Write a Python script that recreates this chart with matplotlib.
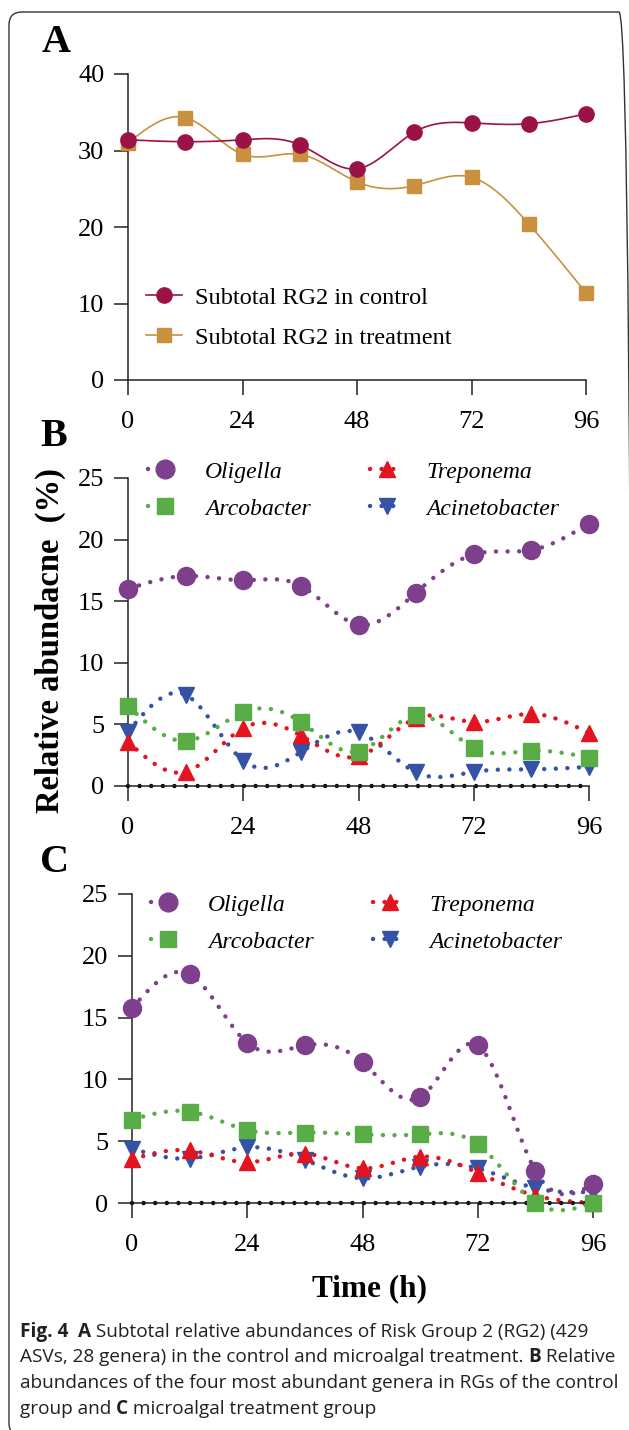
import numpy as np
import matplotlib
matplotlib.use("Agg")
import matplotlib.pyplot as plt
from matplotlib.lines import Line2D
from matplotlib.patches import FancyBboxPatch

# ---------------- data ----------------
time_h = [0, 12, 24, 36, 48, 60, 72, 84, 96]
x_ticks = [0, 24, 48, 72, 96]

# Panel A
rg2_control = [31.4, 31.15, 31.4, 30.75, 27.6, 32.4, 33.6, 33.5, 34.8]
rg2_treatment = [31.0, 34.3, 29.5, 29.5, 25.9, 25.4, 26.5, 20.4, 11.4]
a_labels = ["Subtotal RG2 in control", "Subtotal RG2 in treatment"]
a_yticks = [0, 10, 20, 30, 40]

# Panel B (control)
b_oligella = [16.0, 17.05, 16.7, 16.25, 13.1, 15.7, 18.8, 19.15, 21.3]
b_treponema = [3.6, 1.15, 4.7, 4.1, 2.4, 5.5, 5.2, 5.85, 4.3]
b_arcobacter = [6.5, 3.65, 6.0, 5.2, 2.8, 5.75, 3.1, 2.85, 2.3]
b_acinetobacter = [4.4, 7.4, 2.05, 2.75, 4.35, 1.1, 1.15, 1.35, 1.55]
b_baseline_end = 94.5

# Panel C (treatment)
c_oligella = [15.75, 18.5, 12.95, 12.75, 11.4, 8.55, 12.75, 2.6, 1.5]
c_treponema = [3.55, 4.25, 3.3, 4.0, 2.8, 3.75, 2.45, 0.6, 0.0]
c_arcobacter = [6.75, 7.4, 5.9, 5.7, 5.55, 5.55, 4.75, 0.0, 0.0]
c_acinetobacter = [4.4, 3.6, 4.5, 3.5, 2.0, 2.95, 2.8, 1.2, 0.9]
c_baseline_end = 96

genera_legend_order = ["Oligella", "Arcobacter", "Treponema", "Acinetobacter"]
bc_yticks = [0, 5, 10, 15, 20, 25]

caption_lines = [
    [("Fig. 4", "bold"), ("  ", "normal"), ("A", "bold"),
     (" Subtotal relative abundances of Risk Group 2 (RG2) (429", "normal")],
    [("ASVs, 28 genera) in the control and microalgal treatment. ", "normal"),
     ("B", "bold"), (" Relative", "normal")],
    [("abundances of the four most abundant genera in RGs of the control", "normal")],
    [("group and ", "normal"), ("C", "bold"), (" microalgal treatment group", "normal")],
]

# ---------------- style ----------------
W, H = 629, 1430
SERIF = "Liberation Serif"
plt.rcParams["font.family"] = SERIF
plt.rcParams["axes.linewidth"] = 1.1

col_control = "#9B1247"
col_treat = "#C9913F"
gen_colors = {"Oligella": "#7E3F8C", "Treponema": "#E3141F",
              "Arcobacter": "#59AD47", "Acinetobacter": "#3553A5"}
gen_markers = {"Oligella": "o", "Treponema": "^", "Arcobacter": "s", "Acinetobacter": "v"}
gen_ms = {"Oligella": 13, "Treponema": 11.5, "Arcobacter": 11.5, "Acinetobacter": 11.5}
gen_z = {"Acinetobacter": 3, "Treponema": 4, "Arcobacter": 5, "Oligella": 6}
DOT = (0, (0.01, 2.6))


def natural_spline(x, y, n=400):
    x = np.asarray(x, float)
    y = np.asarray(y, float)
    k = len(x)
    h = np.diff(x)
    A = np.zeros((k, k))
    r = np.zeros(k)
    A[0, 0] = A[-1, -1] = 1
    for i in range(1, k - 1):
        A[i, i - 1] = h[i - 1]
        A[i, i] = 2 * (h[i - 1] + h[i])
        A[i, i + 1] = h[i]
        r[i] = 6 * ((y[i + 1] - y[i]) / h[i] - (y[i] - y[i - 1]) / h[i - 1])
    M = np.linalg.solve(A, r)
    xs = np.linspace(x[0], x[-1], n)
    idx = np.clip(np.searchsorted(x, xs) - 1, 0, k - 2)
    x0, x1 = x[idx], x[idx + 1]
    hh = x1 - x0
    t0 = x1 - xs
    t1 = xs - x0
    ys = (M[idx] * t0 ** 3 / (6 * hh) + M[idx + 1] * t1 ** 3 / (6 * hh)
          + (y[idx] / hh - M[idx] * hh / 6) * t0 + (y[idx + 1] / hh - M[idx + 1] * hh / 6) * t1)
    return xs, ys


def style_axes(ax, yticks):
    for s in ["top", "right"]:
        ax.spines[s].set_visible(False)
    ax.spines["left"].set_color("#222222")
    ax.spines["bottom"].set_color("#222222")
    ax.set_xlim(0, 96)
    ax.set_ylim(yticks[0], yticks[-1])
    ax.set_xticks(x_ticks)
    ax.set_yticks(yticks)
    ax.tick_params(axis="both", direction="out", width=1.1, color="#222222", labelsize=19)
    ax.tick_params(axis="x", length=10.8, pad=11.5)
    ax.tick_params(axis="y", length=10, pad=7)
    ax.patch.set_alpha(0)


fig = plt.figure(figsize=(W / 100, H / 100), dpi=100)


def ax_rect(left, right, top, bottom):
    return [left / W, 1 - bottom / H, (right - left) / W, (bottom - top) / H]


# ---------------- Panel A ----------------
axA = fig.add_axes(ax_rect(128, 586, 74, 380))
style_axes(axA, a_yticks)
for vals, col, mk, ms in [(rg2_treatment, col_treat, "s", 10.5),
                          (rg2_control, col_control, "o", 11)]:
    xs, ys = natural_spline(time_h, vals)
    axA.plot(xs, ys, color=col, lw=1.2, clip_on=False, zorder=2)
    axA.plot(time_h, vals, ls="none", marker=mk, ms=ms, color=col, mec=col,
             clip_on=False, zorder=4)
hA = [Line2D([], [], color=col_control, lw=1.2, marker="o", ms=11),
      Line2D([], [], color=col_treat, lw=1.2, marker="s", ms=10.5)]
axA.legend(hA, a_labels, loc="upper left", bbox_to_anchor=(18 / 458, 0.305),
           frameon=False, fontsize=17.5, handlelength=1.48, handletextpad=0.54,
           labelspacing=0.75, borderaxespad=0, borderpad=0)


# ---------------- Panels B and C ----------------
def genus_panel(ax, series, base_end, leg_x, leg_top):
    style_axes(ax, bc_yticks)
    ax.plot([0, base_end], [0, 0], color="black", lw=3.2, ls=DOT,
            dash_capstyle="round", clip_on=False, zorder=2)
    for g, vals in series.items():
        xs, ys = natural_spline(time_h, vals)
        ax.plot(xs, ys, color=gen_colors[g], lw=3.2, ls=DOT, dash_capstyle="round",
                clip_on=False, zorder=2)
        ax.plot(time_h, vals, ls="none", marker=gen_markers[g], ms=gen_ms[g],
                color=gen_colors[g], mec=gen_colors[g], clip_on=False, zorder=gen_z[g])
    handles = [Line2D([], [], color=gen_colors[g], lw=3.2, ls=DOT, dash_capstyle="round",
                      marker=gen_markers[g], ms=gen_ms[g] + 0.5)
               for g in genera_legend_order]
    ax.legend(handles, genera_legend_order, loc="upper left",
              bbox_to_anchor=(leg_x, leg_top), ncol=2, frameon=False,
              prop={"family": SERIF, "style": "italic", "size": 17},
              handlelength=1.44, handletextpad=0.97, labelspacing=0.66,
              columnspacing=2.5, borderaxespad=0, borderpad=0)


axB = fig.add_axes(ax_rect(128, 589, 478, 786))
genus_panel(axB, {"Acinetobacter": b_acinetobacter, "Treponema": b_treponema,
                  "Arcobacter": b_arcobacter, "Oligella": b_oligella}, b_baseline_end,
            20 / 461, (786 - 461) / 308)
axC = fig.add_axes(ax_rect(132, 593, 894, 1203))
genus_panel(axC, {"Acinetobacter": c_acinetobacter, "Treponema": c_treponema,
                  "Arcobacter": c_arcobacter, "Oligella": c_oligella}, c_baseline_end,
            19 / 461, (1203 - 894) / 309)

# ---------------- texts ----------------
for lab, (x, y) in {"A": (42, 42), "B": (40, 436), "C": (40, 862)}.items():
    fig.text(x / W, 1 - y / H, lab, fontsize=29, fontweight="bold", va="center", ha="left")

fig.text(50 / W, 1 - 641 / H, "Relative abundacne  (%)", rotation=90, fontsize=23.5,
         fontweight="bold", ha="center", va="center")
fig.text(370 / W, 1 - 1289 / H, "Time (h)", fontsize=22.5, fontweight="bold",
         ha="center", va="center")

# caption
CAP_FONT = "Open Sans"
renderer = fig.canvas.get_renderer()
y0 = 1332
for i, parts in enumerate(caption_lines):
    x = 20
    y = y0 + i * 25.5
    for txt, wt in parts:
        t = fig.text(x / W, 1 - y / H, txt, fontsize=13.7, fontweight=wt,
                     family=CAP_FONT, va="center", ha="left", color="#231F20")
        bb = t.get_window_extent(renderer=renderer)
        x += bb.width

# border (rounded rectangle, drawn in inches so the corner radius is isotropic);
# it runs off the right and bottom edges of the image, as in the original page crop
box = FancyBboxPatch((9 / 100, -6 / 100), 623 / 100, 1424 / 100,
                     boxstyle="round,pad=0,rounding_size=0.13",
                     transform=fig.dpi_scale_trans,
                     fill=False, ec="#333333", lw=1.0, clip_on=False)
fig.patches.append(box)

fig.savefig("out.png", dpi=100)
